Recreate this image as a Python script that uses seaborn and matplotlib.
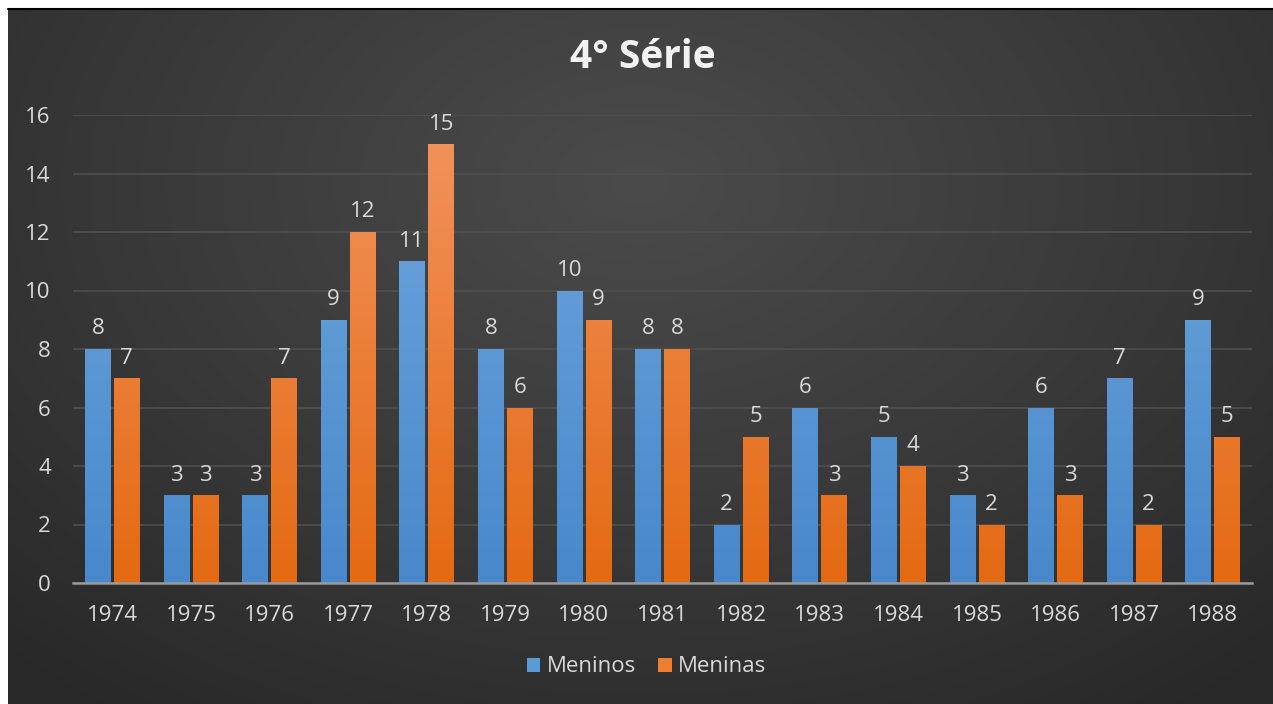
import numpy as np
import pandas as pd
import matplotlib
matplotlib.use("Agg")
import matplotlib.pyplot as plt
import seaborn as sns
from matplotlib.colors import LinearSegmentedColormap
from matplotlib.patches import Patch

# ---- data ----
anos = ["1974", "1975", "1976", "1977", "1978", "1979", "1980", "1981",
        "1982", "1983", "1984", "1985", "1986", "1987", "1988"]
meninos = [8, 3, 3, 9, 11, 8, 10, 8, 2, 6, 5, 3, 6, 7, 9]
meninas = [7, 3, 7, 12, 15, 6, 9, 8, 5, 3, 4, 2, 3, 2, 5]
series = ["Meninos", "Meninas"]
titulo = "4° Série"
yticks = [0, 2, 4, 6, 8, 10, 12, 14, 16]

df = pd.DataFrame({
    "ano": anos * 2,
    "valor": meninos + meninas,
    "serie": [series[0]] * len(anos) + [series[1]] * len(anos),
})

sns.set_theme(style="dark")
plt.rcParams["font.family"] = ["Open Sans", "DejaVu Sans"]

W, H = 1273, 704
fig = plt.figure(figsize=(W / 100, H / 100), dpi=100)
fig.patch.set_facecolor("white")

# background panel with radial gradient
bx0, by0, bx1, by1 = 8, 10, 1273, 704
bg = fig.add_axes([bx0 / W, 1 - by1 / H, (bx1 - bx0) / W, (by1 - by0) / H])
gy, gx = np.mgrid[0:1:300j, 0:1:600j]
r = np.sqrt(((gx - 0.5) / 0.75) ** 2 + ((gy - 0.25) / 0.95) ** 2)
r = np.clip(r, 0, 1)
bgcmap = LinearSegmentedColormap.from_list("bg", ["#4b4b4b", "#3a3a3a", "#282828"])
bg.imshow(r, cmap=bgcmap, aspect="auto", extent=[0, 1, 1, 0], vmin=0, vmax=1)
bg.set_axis_off()
fig.add_artist(plt.Line2D([bx0 / W, 1], [1 - 9 / H, 1 - 9 / H], color="black", lw=1.5))

# main axes
ax0, ay0, ax1, ay1 = 73, 115, 1252, 583
ax = fig.add_axes([ax0 / W, 1 - ay1 / H, (ax1 - ax0) / W, (ay1 - ay0) / H])
ax.patch.set_alpha(0)

pal = {"Meninos": "#5b9bd5", "Meninas": "#ed7d31"}
sns.barplot(data=df, x="ano", y="valor", hue="serie", palette=pal,
            width=0.74, gap=0.12, ax=ax, legend=False, saturation=1,
            hue_order=series, order=anos, zorder=3, linewidth=0, edgecolor="none")

ax.set_yticks(yticks)
ax.yaxis.grid(True, color="#4f4f4f", lw=1.2, zorder=0)
ax.xaxis.grid(False)
for s in ["top", "right", "left"]:
    ax.spines[s].set_visible(False)
ax.spines["bottom"].set_color("#9a9a9a")
ax.spines["bottom"].set_linewidth(1.8)
ax.spines["bottom"].set_zorder(5)
ax.tick_params(axis="both", length=0, colors="#d9d9d9", labelsize=16)
ax.tick_params(axis="y", pad=16)
ax.tick_params(axis="x", pad=16)
ax.set_xlabel("")
ax.set_ylabel("")

# gradient fills clipped to bars
grads = {
    "Meninos": LinearSegmentedColormap.from_list("b", ["#4888cb", "#72a8df"]),
    "Meninas": LinearSegmentedColormap.from_list("o", ["#e46a12", "#f29460"]),
}
grad = np.linspace(0, 1, 256).reshape(-1, 1)
for cont, name in zip(ax.containers, series):
    for bar in cont:
        x, w = bar.get_x(), bar.get_width()
        im = ax.imshow(grad, cmap=grads[name], aspect="auto",
                       extent=[x, x + w, 0, 16], origin="lower", zorder=4)
        im.set_clip_path(bar)
    ax.bar_label(cont, padding=7, color="#d9d9d9", fontsize=16, zorder=6)
ax.set_ylim(0, 16)
ax.set_xlim(-0.5, len(anos) - 0.5)

# title
fig.text(0.505, 1 - 58 / H, titulo, ha="center", va="center", color="#f2f2f2",
         fontsize=28, fontweight="bold")

# legend
handles = [Patch(facecolor=pal[s], edgecolor="none") for s in series]
leg = fig.legend(handles, series, loc="center", bbox_to_anchor=(0.508, 1 - 667 / H),
                 ncol=2, frameon=False, fontsize=16, handlelength=0.6,
                 handleheight=0.6, handletextpad=0.3, columnspacing=1.0)
for t in leg.get_texts():
    t.set_color("#d9d9d9")

fig.savefig("out.png", dpi=100, facecolor=fig.get_facecolor())
